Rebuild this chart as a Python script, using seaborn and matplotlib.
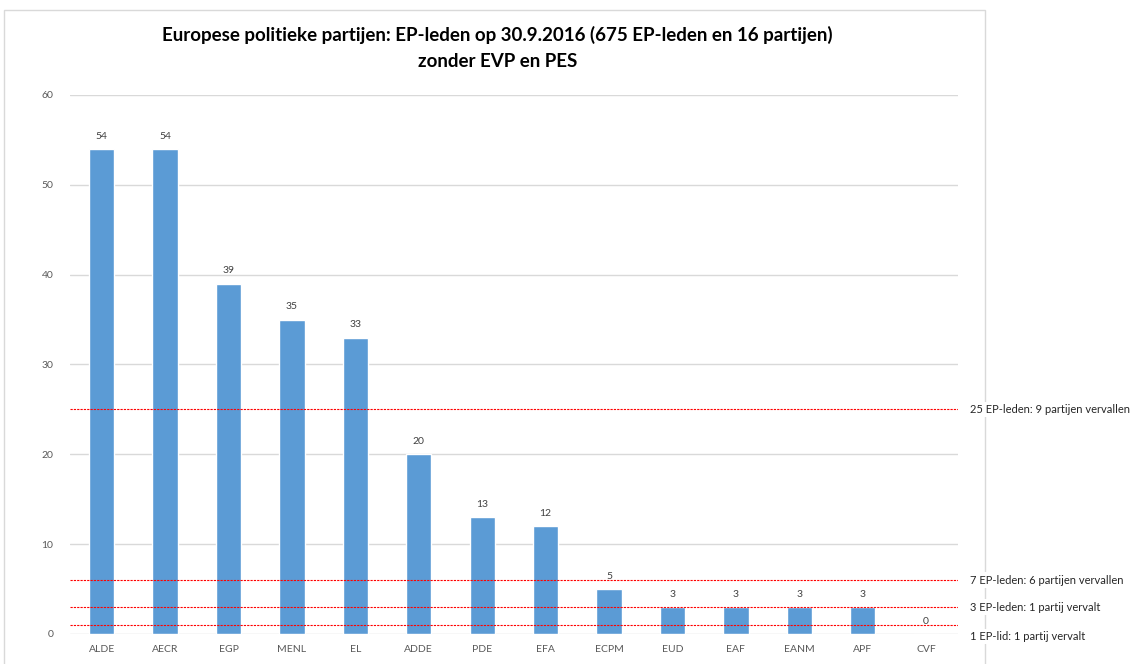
import matplotlib
matplotlib.use('agg')
import matplotlib.pyplot as plt
import matplotlib.patches as mpatches
import pandas as pd
import seaborn as sns

sns.set_style('white')
plt.rcParams['font.family'] = ['Lato', 'DejaVu Sans']

# data
partijen = ['ALDE', 'AECR', 'EGP', 'MENL', 'EL', 'ADDE', 'PDE', 'EFA',
            'ECPM', 'EUD', 'EAF', 'EANM', 'APF', 'CVF']
leden = [54, 54, 39, 35, 33, 20, 13, 12, 5, 3, 3, 3, 3, 0]
drempels = [25, 6, 3, 1]
drempel_tekst = ['25 EP-leden: 9 partijen vervallen',
                 '7 EP-leden: 6 partijen vervallen',
                 '3 EP-leden: 1 partij vervalt',
                 '1 EP-lid: 1 partij vervalt']
# kleine verschuiving van de tekst t.o.v. de lijn (in punten)
tekst_offset = [0, 0, 0, -8]

df = pd.DataFrame({'partij': partijen, 'leden': leden})

fig = plt.figure(figsize=(11.31, 6.64), dpi=100)
ax = fig.add_axes([0.0619, 0.0452, 0.785, 0.8118])

sns.barplot(data=df, x='partij', y='leden', color='#5B9BD5', saturation=1,
            width=0.4, ax=ax)

ax.set_ylim(0, 60)
ax.set_yticks(range(0, 61, 10))
ax.set_xlim(-0.5, len(partijen) - 0.5)
ax.yaxis.grid(True, color='#D9D9D9', linewidth=1)
ax.set_axisbelow(True)
for s in ax.spines.values():
    s.set_visible(False)
ax.tick_params(axis='both', length=0, colors='#595959', labelsize=7.5)
ax.tick_params(axis='x', pad=8)
ax.tick_params(axis='y', pad=12)
ax.set_xlabel('')
ax.set_ylabel('')

# value labels
for i, v in enumerate(leden):
    ax.annotate(str(v), (i, v), xytext=(0, 6), textcoords='offset points',
                ha='center', va='bottom', fontsize=7.5, color='#404040')

# threshold lines
for d, t, off in zip(drempels, drempel_tekst, tekst_offset):
    ax.axhline(d, color='red', linestyle=(0, (2, 1)), linewidth=0.8)
    ax.annotate(t, (1.014, d), xycoords=ax.get_yaxis_transform(),
                xytext=(0, off), textcoords='offset points', ha='left',
                va='center', fontsize=8, color='#262626',
                bbox=dict(facecolor='white', edgecolor='none', pad=1.5))

# chart frame
frame = mpatches.Rectangle((4 / 1131, -0.02), 981 / 1131, 1.005,
                           transform=fig.transFigure, fill=False,
                           edgecolor='#D9D9D9', linewidth=1, zorder=-1)
fig.patches.append(frame)

fig.text(0.44, 0.947, 'Europese politieke partijen: EP-leden op 30.9.2016 (675 EP-leden en 16 partijen)',
         ha='center', va='center', fontsize=13.5, fontweight='bold', color='black')
fig.text(0.44, 0.908, 'zonder EVP en PES', ha='center', va='center',
         fontsize=13.5, fontweight='bold', color='black')

plt.savefig('out.png', dpi=100)
